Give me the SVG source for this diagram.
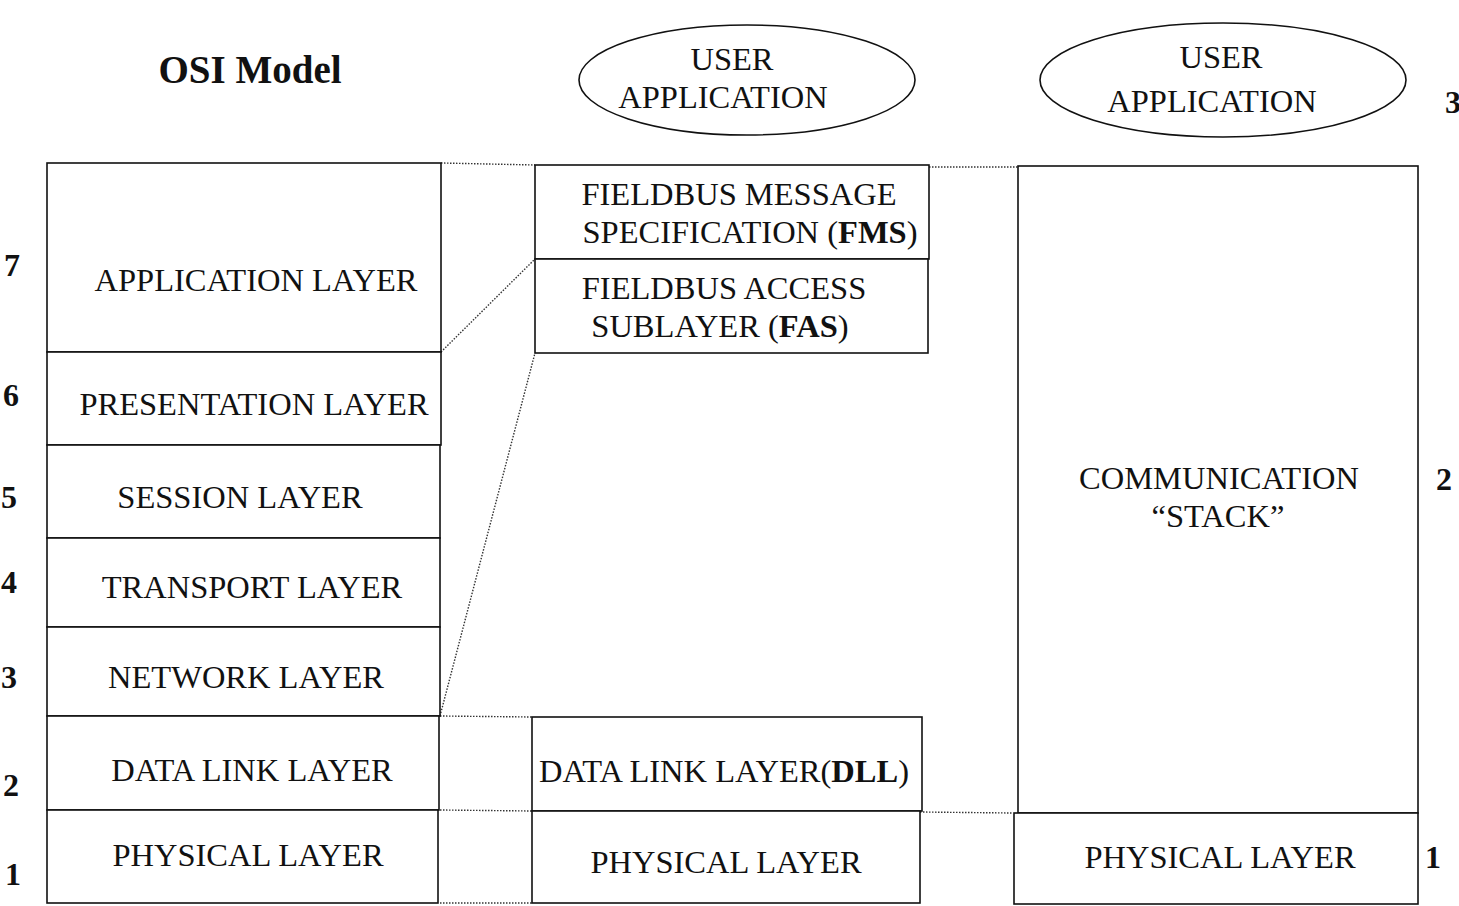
<svg xmlns="http://www.w3.org/2000/svg" width="1459" height="906" viewBox="0 0 1459 906">
<style>
.box{fill:#fff;stroke:#111;stroke-width:1.6}
.t{font-family:"Liberation Serif","Times New Roman",serif;font-size:32.5px;fill:#111;text-anchor:middle}
.n{font-family:"Liberation Serif","Times New Roman",serif;font-size:32px;font-weight:bold;fill:#111}
.title{font-family:"Liberation Serif","Times New Roman",serif;font-size:39px;font-weight:bold;fill:#111;text-anchor:middle}
.dot{fill:none;stroke:#333;stroke-width:1.4;stroke-dasharray:1.5 1.5}
</style>
<rect width="1459" height="906" fill="#fff"/>
<text class="title" x="250" y="83">OSI Model</text>

<g id="connectors">
<line class="dot" x1="441" y1="163" x2="535" y2="165"/>
<line class="dot" x1="441" y1="352" x2="535" y2="259"/>
<line class="dot" x1="440" y1="716" x2="535" y2="353"/>
<line class="dot" x1="440" y1="716" x2="532" y2="717"/>
<line class="dot" x1="440" y1="810" x2="532" y2="811"/>
<line class="dot" x1="440" y1="903" x2="532" y2="903"/>
<line class="dot" x1="929" y1="167" x2="1020" y2="167"/>
<line class="dot" x1="920" y1="812" x2="1012" y2="813"/>
</g>

<g id="osi-application"><rect class="box" x="47" y="163" width="394" height="189"/><text class="t" x="256" y="291">APPLICATION LAYER</text><text class="n" x="4" y="276">7</text></g>
<g id="osi-presentation"><rect class="box" x="47" y="352" width="394" height="93"/><text class="t" x="254" y="415">PRESENTATION LAYER</text><text class="n" x="3" y="406">6</text></g>
<g id="osi-session"><rect class="box" x="47" y="445" width="393" height="93"/><text class="t" x="240" y="508">SESSION LAYER</text><text class="n" x="1" y="508">5</text></g>
<g id="osi-transport"><rect class="box" x="47" y="538" width="393" height="89"/><text class="t" x="252" y="598">TRANSPORT LAYER</text><text class="n" x="1" y="593">4</text></g>
<g id="osi-network"><rect class="box" x="47" y="627" width="393" height="89"/><text class="t" x="246" y="688">NETWORK LAYER</text><text class="n" x="1" y="688">3</text></g>
<g id="osi-datalink"><rect class="box" x="47" y="716" width="392" height="94"/><text class="t" x="252" y="781">DATA LINK LAYER</text><text class="n" x="3" y="796">2</text></g>
<g id="osi-physical"><rect class="box" x="47" y="810" width="391" height="93"/><text class="t" x="248" y="866">PHYSICAL LAYER</text><text class="n" x="5" y="885">1</text></g>

<g id="user-app-1"><ellipse class="box" cx="747" cy="80" rx="168" ry="55"/><text class="t" x="732" y="70">USER</text><text class="t" x="723" y="108">APPLICATION</text></g>
<g id="fms"><rect class="box" x="535" y="165" width="394" height="94"/><text class="t" x="739" y="205">FIELDBUS MESSAGE</text><text class="t" x="750" y="243">SPECIFICATION (<tspan font-weight="bold">FMS</tspan>)</text></g>
<g id="fas"><rect class="box" x="535" y="259" width="393" height="94"/><text class="t" x="724" y="299">FIELDBUS ACCESS</text><text class="t" x="720" y="337">SUBLAYER (<tspan font-weight="bold">FAS</tspan>)</text></g>
<g id="dll"><rect class="box" x="532" y="717" width="390" height="94"/><text class="t" x="724" y="782">DATA LINK LAYER(<tspan font-weight="bold">DLL</tspan>)</text></g>
<g id="ff-physical"><rect class="box" x="532" y="811" width="388" height="92"/><text class="t" x="726" y="873">PHYSICAL LAYER</text></g>

<g id="user-app-2"><ellipse class="box" cx="1223" cy="80" rx="183" ry="57"/><text class="t" x="1221" y="68">USER</text><text class="t" x="1212" y="112">APPLICATION</text></g>
<text class="n" x="1445" y="113">3</text>
<g id="comm-stack"><rect class="box" x="1018" y="166" width="400" height="647"/><text class="t" x="1219" y="489">COMMUNICATION</text><text class="t" x="1218" y="527">“STACK”</text><text class="n" x="1436" y="490">2</text></g>
<g id="stack-physical"><rect class="box" x="1014" y="813" width="404" height="91"/><text class="t" x="1220" y="868">PHYSICAL LAYER</text><text class="n" x="1425" y="868">1</text></g>
</svg>
